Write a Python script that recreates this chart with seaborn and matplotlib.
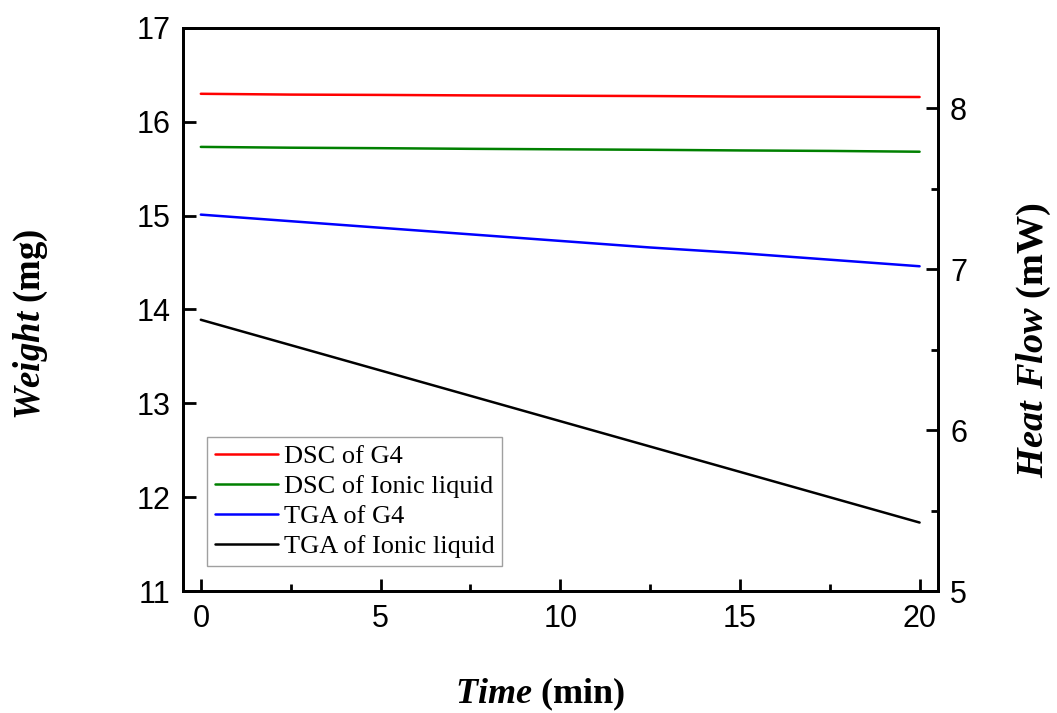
import pandas as pd
import matplotlib
matplotlib.use('Agg')
import matplotlib.pyplot as plt
import seaborn as sns
from matplotlib.ticker import MultipleLocator

# values
time = [0, 2.5, 5, 7.5, 10, 12.5, 15, 17.5, 20]
dsc_g4 = [8.09, 8.085, 8.083, 8.08, 8.078, 8.076, 8.073, 8.072, 8.07]      # mW
dsc_il = [7.76, 7.755, 7.752, 7.748, 7.745, 7.742, 7.738, 7.735, 7.73]     # mW
tga_g4 = [15.01, 14.94, 14.87, 14.80, 14.73, 14.66, 14.60, 14.53, 14.46]   # mg
tga_il = [13.89, 13.62, 13.35, 13.08, 12.81, 12.54, 12.27, 12.00, 11.73]   # mg

df = pd.DataFrame({'Time': time, 'DSC of G4': dsc_g4, 'DSC of Ionic liquid': dsc_il,
                   'TGA of G4': tga_g4, 'TGA of Ionic liquid': tga_il})

sns.set_style('ticks')
plt.rcParams['font.family'] = ['Liberation Sans', 'DejaVu Sans']
plt.rcParams['mathtext.fontset'] = 'custom'
plt.rcParams['mathtext.bfit'] = 'Liberation Serif:italic:bold'
plt.rcParams['mathtext.rm'] = 'Liberation Serif'
plt.rcParams['text.color'] = 'black'
plt.rcParams['axes.labelcolor'] = 'black'
plt.rcParams['xtick.color'] = 'black'
plt.rcParams['ytick.color'] = 'black'

fig, ax = plt.subplots(figsize=(10.57, 7.13), dpi=100)
fig.subplots_adjust(left=0.173, right=0.887, bottom=0.171, top=0.961)
ax2 = ax.twinx()

# TGA on the weight axis, DSC on the heat-flow axis
sns.lineplot(data=df, x='Time', y='TGA of G4', ax=ax, color='#0000ff', lw=1.8, label='TGA of G4', legend=False)
sns.lineplot(data=df, x='Time', y='TGA of Ionic liquid', ax=ax, color='black', lw=1.8, label='TGA of Ionic liquid', legend=False)
sns.lineplot(data=df, x='Time', y='DSC of G4', ax=ax2, color='#ff0000', lw=1.8, label='DSC of G4', legend=False)
sns.lineplot(data=df, x='Time', y='DSC of Ionic liquid', ax=ax2, color='#008000', lw=1.8, label='DSC of Ionic liquid', legend=False)

ax.set_xlim(-0.5, 20.5)
ax.set_ylim(11, 17)
ax2.set_ylim(5, 8.5)

ax.xaxis.set_major_locator(MultipleLocator(5))
ax.xaxis.set_minor_locator(MultipleLocator(2.5))
ax.yaxis.set_major_locator(MultipleLocator(1))
ax2.yaxis.set_major_locator(MultipleLocator(1))
ax2.yaxis.set_minor_locator(MultipleLocator(0.5))

for a in (ax, ax2):
    for s in a.spines.values():
        s.set_linewidth(2)
        s.set_color('black')
    a.tick_params(which='major', direction='in', length=9, width=2, labelsize=22, pad=9)
    a.tick_params(which='minor', direction='in', length=5, width=2)
ax.tick_params(axis='y', right=False)
ax.tick_params(axis='x', top=False)
ax2.tick_params(axis='x', top=False)

ax.set_xlabel(r'$\mathbfit{Time}$ (min)', fontsize=26, fontweight='bold', family='Liberation Serif', labelpad=30)
ax.set_ylabel(r'$\mathbfit{Weight}$ (mg)', fontsize=26.5, fontweight='bold', family='Liberation Serif', labelpad=62)
ax2.set_ylabel(r'$\mathbfit{Heat\ Flow}$ (mW)', fontsize=27.5, fontweight='bold', family='Liberation Serif', labelpad=34)
ax.xaxis.label.set_x(0.473)
ax.yaxis.label.set_y(0.474)
ax2.yaxis.label.set_y(0.446)

h1, l1 = ax.get_legend_handles_labels()
h2, l2 = ax2.get_legend_handles_labels()
handles = h2 + h1
labels = l2 + l1
leg = ax2.legend(handles, labels, loc='lower left', bbox_to_anchor=(0.032, 0.044), borderaxespad=0,
                 prop={'family': 'Liberation Serif', 'size': 19}, frameon=True, fancybox=False,
                 handlelength=2.4, handletextpad=0.2, labelspacing=0.25, borderpad=0.3)
leg.get_frame().set_edgecolor('#888888')
leg.get_frame().set_linewidth(1)

fig.savefig('out.png', dpi=100)
